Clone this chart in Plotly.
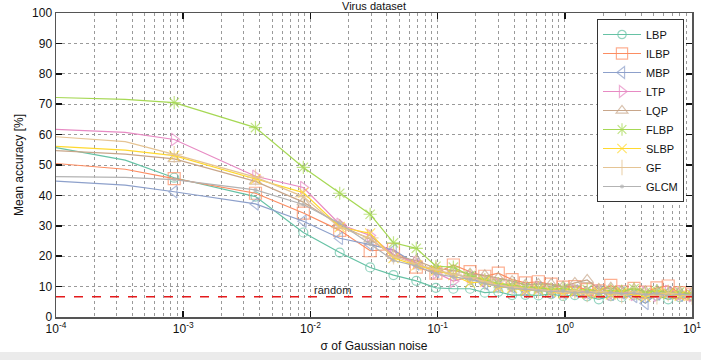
import numpy as np
import plotly.graph_objects as go

# ---------------- data ----------------
sigma = [1e-4, 3.5e-4, 8.5e-4, 3.7e-3, 8.8e-3, 1.7e-2, 2.95e-2, 4.5e-2, 6.8e-2, 9.7e-2,
         0.133, 0.18, 0.235, 0.30, 0.385, 0.49, 0.62, 0.78, 0.97, 1.2,
         1.5, 1.85, 2.3, 2.8, 3.5, 4.3, 5.3, 6.5, 8.0, 10.0]

LBP = [55.7, 51.6, 45.8, 39.6, 27.8, 21.2, 16.3, 13.8, 11.9, 9.6, 9.3, 9.3, 8.0, 8.3, 7.2,
       7.3, 7.1, 7.5, 6.9, 7.2, 6.8, 5.8, 6.9, 6.5, 7.3, 6.2, 7.0, 5.8, 6.5, 6.8]
ILBP = [50.5, 48.6, 45.5, 40.7, 34.2, 28.5, 21.8, 22.2, 16.4, 14.4, 17.1, 14.9, 13.4, 14.4, 12.3,
        11.2, 11.6, 10.8, 9.8, 10.0, 9.0, 8.6, 10.4, 8.3, 9.4, 8.2, 9.6, 10.2, 8.0, 7.5]
MBP = [44.7, 43.4, 41.2, 37.2, 31.5, 25.9, 23.8, 22.0, 17.5, 15.0, 14.2, 12.8, 11.0, 10.5, 9.8,
       9.0, 9.5, 8.4, 8.0, 8.6, 7.8, 8.2, 7.5, 7.9, 6.8, 4.5, 7.6, 8.0, 7.2, 6.8]
LTP = [61.7, 60.7, 58.4, 46.3, 42.6, 30.5, 26.8, 20.5, 17.8, 14.6, 11.8, 13.2, 12.0, 10.6, 10.2,
       9.2, 9.8, 8.6, 8.2, 8.9, 8.0, 8.5, 7.6, 8.3, 7.4, 8.0, 7.1, 8.4, 7.5, 7.0]
LQP = [54.7, 53.6, 52.0, 44.6, 37.8, 30.2, 25.6, 20.2, 18.6, 16.0, 15.3, 14.2, 13.7, 12.8, 11.8,
       10.6, 10.9, 10.8, 10.0, 11.2, 12.2, 9.2, 9.6, 8.6, 9.2, 8.4, 8.8, 7.6, 8.2, 7.8]
FLBP = [72.2, 71.6, 70.5, 62.3, 49.2, 40.7, 33.8, 24.4, 22.6, 16.7, 16.4, 13.6, 12.2, 11.0, 10.4,
        9.8, 9.6, 9.2, 9.4, 8.6, 9.0, 8.2, 8.8, 8.4, 9.3, 8.0, 8.6, 7.9, 8.2, 7.4]
SLBP = [56.1, 54.9, 53.1, 45.4, 40.9, 29.6, 27.5, 19.4, 17.0, 15.3, 13.8, 11.2, 11.6, 9.8, 9.6,
        8.6, 8.9, 8.2, 7.8, 8.3, 7.6, 8.1, 7.4, 7.9, 7.2, 6.6, 7.8, 7.5, 7.0, 7.2]
GF = [59.3, 57.7, 53.5, 46.0, 39.6, 29.4, 26.0, 20.0, 17.4, 15.6, 14.0, 13.0, 11.6, 10.4, 9.8,
      9.4, 8.8, 8.6, 8.0, 8.7, 7.6, 8.4, 7.9, 7.2, 8.3, 7.4, 6.9, 7.9, 7.4, 6.8]
GLCM = [46.2, 45.9, 45.2, 41.8, 37.0, 30.8, 24.0, 18.6, 16.8, 14.2, 13.2, 12.4, 11.0, 10.2, 9.4,
        9.1, 8.6, 8.3, 8.6, 7.9, 8.3, 7.6, 8.0, 7.7, 7.9, 7.3, 7.8, 7.0, 7.5, 7.2]

random_level = 100.0 / 15
series_names = ["LBP", "ILBP", "MBP", "LTP", "LQP", "FLBP", "SLBP", "GF", "GLCM"]
series_values = [LBP, ILBP, MBP, LTP, LQP, FLBP, SLBP, GF, GLCM]
x_tick_exponents = [-4, -3, -2, -1, 0, 1]
y_ticks = list(range(0, 101, 10))

# ---------------- styles ----------------
colors = ["#66c2a5", "#fc8d62", "#8da0cb", "#e78ac3", "#c8a68a",
          "#a6d854", "#ffd92f", "#e5c494", "#b3b3b3"]
symbols = ["circle-open", "square-open", "triangle-left-open", "triangle-right-open",
           "triangle-up-open", "asterisk-open", "x-thin-open", "cross-thin-open", "circle"]
sizes = [9, 12, 11, 11, 11, 11, 10, 12, 3]
n_hidden = 2  # first points drawn without markers

fig = go.Figure()
for name, vals, c, s, sz in zip(series_names, series_values, colors, symbols, sizes):
    msizes = [0] * n_hidden + [sz] * (len(sigma) - n_hidden)
    fig.add_trace(go.Scatter(
        x=sigma, y=vals, name=name, mode="lines+markers",
        line=dict(color=c, width=1.2),
        marker=dict(symbol=s, size=msizes, color=c, line=dict(color=c, width=1.2)),
    ))

fig.add_trace(go.Scatter(
    x=[sigma[0], sigma[-1]], y=[random_level, random_level], mode="lines",
    line=dict(color="#e41a1c", width=1.3, dash="dash"), showlegend=False, hoverinfo="skip"))

fig.add_annotation(x=np.log10(0.0148), y=random_level, xref="x", yref="y",
                   text="random", showarrow=False, yanchor="bottom", yshift=-1,
                   font=dict(size=11, color="#222"))

fig.add_annotation(x=0.5, y=1, xref="paper", yref="paper", text="Virus dataset",
                   showarrow=False, yanchor="bottom", yshift=-1,
                   font=dict(size=11, color="#111"))

minor_vals = [m * 10.0 ** e for e in x_tick_exponents[:-1] for m in range(2, 10)]

grid_color = "#9a9a9a"
fig.update_xaxes(
    type="log", range=[x_tick_exponents[0], x_tick_exponents[-1]],
    tickmode="array", tickvals=[10.0 ** e for e in x_tick_exponents],
    ticktext=["10<sup>%d</sup>" % e for e in x_tick_exponents],
    ticks="inside", ticklen=6, tickwidth=1.5, tickcolor="#111",
    showline=True, linecolor="#555", linewidth=1.5, mirror="all",
    showgrid=True, gridcolor=grid_color, griddash="dot", gridwidth=1,
    minor=dict(tickmode="array", tickvals=minor_vals, showgrid=True,
               gridcolor=grid_color, griddash="dot", gridwidth=1, ticks=""),
    zeroline=False, automargin=False, ticklabeloverflow="allow",
    title=dict(text="σ of Gaussian noise", standoff=6, font=dict(size=12, color="#111")),
    tickfont=dict(size=12, color="#111"),
)
fig.update_yaxes(
    range=[0, 100], tickmode="array", tickvals=y_ticks,
    ticks="inside", ticklen=6, tickwidth=1.5, tickcolor="#111",
    showline=True, linecolor="#555", linewidth=1.5, mirror="all",
    showgrid=True, gridcolor=grid_color, griddash="dot", gridwidth=1,
    zeroline=False, automargin=False, ticklabeloverflow="allow",
    title=dict(text="Mean accuracy [%]", standoff=6, font=dict(size=12, color="#111")),
    tickfont=dict(size=12, color="#111"),
)

W, H = 701, 360
ml, mr, mt, mb = 56, 9, 13, 43
ph = H - mt - mb
pw = W - ml - mr
# light grey strip at the bottom of the image (pixel rows 352..360)
fig.add_shape(type="rect", xref="paper", yref="paper",
              x0=-ml / pw, x1=(W - ml) / pw,
              y0=-(H - mt - ph) / ph - 0.02, y1=-(352 - mt - ph) / ph,
              fillcolor="#ebebeb", line=dict(width=0), layer="below")

fig.update_layout(
    width=W, height=H,
    margin=dict(l=ml, r=mr, t=mt, b=mb, autoexpand=False),
    paper_bgcolor="white", plot_bgcolor="white",
    font=dict(family="Liberation Sans, Arial, sans-serif", size=12, color="#111"),
    legend=dict(x=(597 - ml) / pw, y=(ph - (19 - mt)) / ph, xanchor="left", yanchor="top",
                bgcolor="white", bordercolor="#333", borderwidth=1,
                font=dict(size=11, color="#111"), itemwidth=38),
    showlegend=True,
    hovermode=False,
)

fig.write_html(
    "out.html",
    config={"displayModeBar": False, "staticPlot": True},
    post_script="document.body.style.margin='0';document.body.style.overflow='hidden';",
)
